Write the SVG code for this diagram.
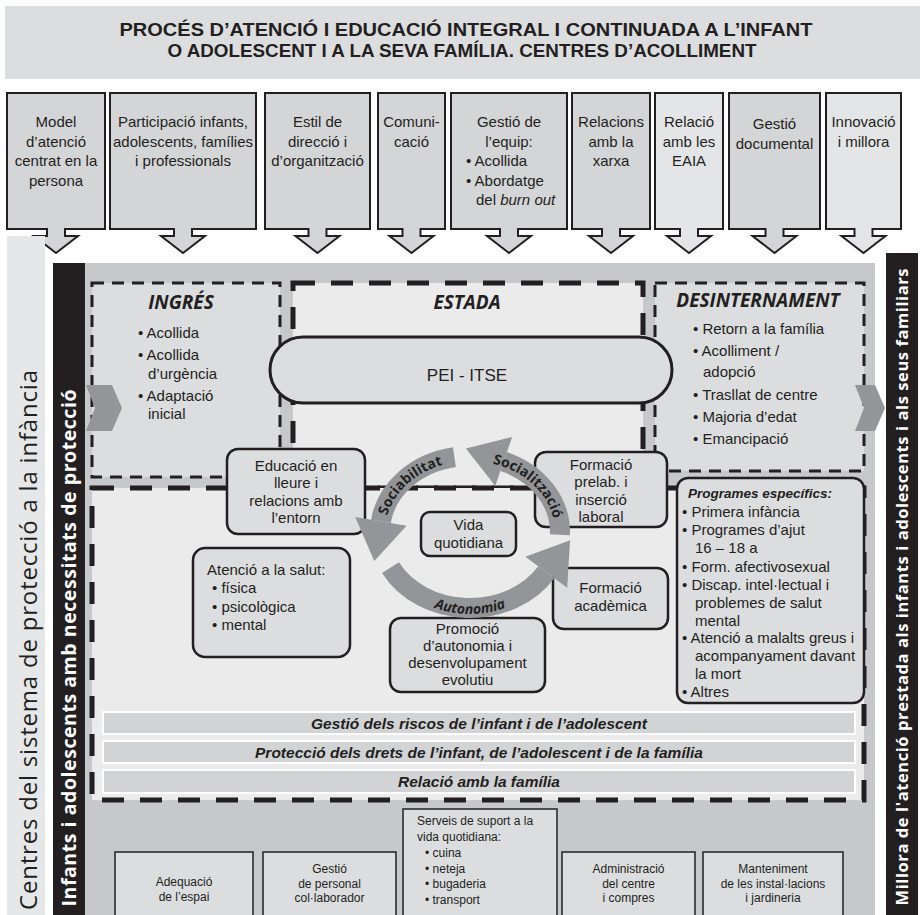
<svg xmlns="http://www.w3.org/2000/svg" width="920" height="915" viewBox="0 0 920 915">
<defs>
<style>
.t{font-family:"Liberation Sans",Arial,sans-serif;fill:#231f20}
.o{font-family:"Open Sans","Liberation Sans",sans-serif}
.n{font-family:"Liberation Sans",Arial,sans-serif;fill:#231f20;font-size:15px;text-anchor:middle}
.body{font-size:15px}
.sm{font-size:12px}
.c{text-anchor:middle}
.bi{font-weight:bold;font-style:italic}
.b{font-weight:bold}
.top{stroke:#231f20;stroke-width:2;stroke-linejoin:miter}
.rb{fill:#dcdddf;stroke:#231f20;stroke-width:2.5}
.sq{fill:#dcdddf;stroke:#231f20;stroke-width:1.5}
.thin{stroke:#231f20;stroke-width:3;stroke-dasharray:12 8;fill:#dcdddf}
.thick{stroke:#231f20;stroke-width:5;stroke-dasharray:22 16;fill:#ebebec}
.bar{fill:#d1d3d4;stroke:#ffffff;stroke-width:2}
.arc{fill:none;stroke:#939598;stroke-width:20}
.ah{fill:#939598}
</style>
</defs>
<rect x="0" y="0" width="920" height="915" fill="#ffffff"/>

<g id="title">
<rect x="5" y="6" width="915" height="73" fill="#dcdddf"/>
<text class="t b c" font-size="18" x="466" y="36" textLength="693" lengthAdjust="spacingAndGlyphs">PROCÉS D’ATENCIÓ I EDUCACIÓ INTEGRAL I CONTINUADA A L’INFANT</text>
<text class="t b c" font-size="18" x="462" y="57" textLength="589" lengthAdjust="spacingAndGlyphs">O ADOLESCENT I A LA SEVA FAMÍLIA. CENTRES D’ACOLLIMENT</text>
</g>

<g id="top-boxes">
<g id="tb1"><path class="top" fill="#d4d5d7" d="M7,93 H105 V229 H65 V236 H78 L56,253 L34,236 H47 V229 H7 Z"/>
<text class="n"><tspan x="56" y="127">Model</tspan><tspan x="56" y="146.5">d’atenció</tspan><tspan x="56" y="166">centrat en la</tspan><tspan x="56" y="185.5">persona</tspan></text></g>
<g id="tb2"><path class="top" fill="#d4d5d7" d="M110,93 H256 V229 H192 V236 H205 L183,253 L161,236 H174 V229 H110 Z"/>
<text class="n"><tspan x="183" y="127">Participació infants,</tspan><tspan x="183" y="146.5">adolescents, famílies</tspan><tspan x="183" y="166">i professionals</tspan></text></g>
<g id="tb3"><path class="top" fill="#d4d5d7" d="M265,93 H370 V229 H326.5 V236 H339.5 L317.5,253 L295.5,236 H308.5 V229 H265 Z"/>
<text class="n"><tspan x="317.5" y="127">Estil de</tspan><tspan x="317.5" y="146.5">direcció i</tspan><tspan x="317.5" y="166">d’organització</tspan></text></g>
<g id="tb4"><path class="top" fill="#d4d5d7" d="M378,93 H445 V229 H420.5 V236 H433.5 L411.5,253 L389.5,236 H402.5 V229 H378 Z"/>
<text class="n"><tspan x="411.5" y="127">Comuni-</tspan><tspan x="411.5" y="146.5">cació</tspan></text></g>
<g id="tb5"><path class="top" fill="#d4d5d7" d="M451,93 H567 V229 H518 V236 H531 L509,253 L487,236 H500 V229 H451 Z"/>
<text class="n"><tspan x="509" y="127">Gestió de</tspan><tspan x="509" y="146.5">l’equip:</tspan></text>
<text class="n" style="text-anchor:start"><tspan x="466" y="166">• Acollida</tspan><tspan x="466" y="185.5">• Abordatge</tspan><tspan x="476" y="205">del <tspan font-style="italic">burn out</tspan></tspan></text></g>
<g id="tb6"><path class="top" fill="#d4d5d7" d="M572,93 H650 V229 H620 V236 H633 L611,253 L589,236 H602 V229 H572 Z"/>
<text class="n"><tspan x="611" y="127">Relacions</tspan><tspan x="611" y="146.5">amb la</tspan><tspan x="611" y="166">xarxa</tspan></text></g>
<g id="tb7"><path class="top" fill="#e4e5e6" d="M655,93 H723 V229 H698 V236 H711 L689,253 L667,236 H680 V229 H655 Z"/>
<text class="n"><tspan x="689" y="127">Relació</tspan><tspan x="689" y="146.5">amb les</tspan><tspan x="689" y="166">EAIA</tspan></text></g>
<g id="tb8"><path class="top" fill="#d4d5d7" d="M729,93 H820 V229 H783.5 V236 H796.5 L774.5,253 L752.5,236 H765.5 V229 H729 Z"/>
<text class="n"><tspan x="774.5" y="129">Gestió</tspan><tspan x="774.5" y="148.5">documental</tspan></text></g>
<g id="tb9"><path class="top" fill="#e4e5e6" d="M826,93 H901 V229 H872.5 V236 H885.5 L863.5,253 L841.5,236 H854.5 V229 H826 Z"/>
<text class="n"><tspan x="863.5" y="127">Innovació</tspan><tspan x="863.5" y="146.5">i millora</tspan></text></g>
</g>

<g id="side-left">
<rect x="7" y="236" width="38" height="679" fill="#e6e7e8"/>
<text class="t o c" font-size="24" transform="translate(37,640) rotate(-90)" textLength="540">Centres del sistema de protecció a la infància</text>
</g>

<g id="panel">
<rect x="53" y="263" width="822" height="652" fill="#c7c8ca"/>
<rect x="53" y="263" width="32" height="652" fill="#231f20"/>
<text class="t o b c" font-size="19.5" style="fill:#ffffff" transform="translate(76,648) rotate(-90)" textLength="517">Infants i adolescents amb necessitats de protecció</text>
</g>

<g id="side-right">
<rect x="886" y="253" width="32" height="662" fill="#231f20"/>
<text class="t o b c" font-size="16.5" style="fill:#ffffff" transform="translate(908,587) rotate(-90)" textLength="637">Millora de l'atenció prestada als infants i adolescents i als seus familiars</text>
</g>

<g id="ingres">
<rect class="thin" x="92" y="283" width="188" height="194"/>
<text class="t o bi c" font-size="19" x="181" y="309">INGRÉS</text>
<text class="t body"><tspan x="138" y="338">• Acollida</tspan><tspan x="138" y="360">• Acollida</tspan><tspan x="148" y="379">d’urgència</tspan><tspan x="138" y="401">• Adaptació</tspan><tspan x="148" y="419">inicial</tspan></text>
</g>

<g id="desinternament">
<rect class="thin" x="655" y="283" width="209" height="188"/>
<text class="t o bi c" font-size="19" x="758" y="307">DESINTERNAMENT</text>
<text class="t body"><tspan x="693" y="334">• Retorn a la família</tspan><tspan x="693" y="356">• Acolliment /</tspan><tspan x="703" y="377">adopció</tspan><tspan x="693" y="400">• Trasllat de centre</tspan><tspan x="693" y="422">• Majoria d’edat</tspan><tspan x="693" y="444">• Emancipació</tspan></text>
</g>

<g id="estada">
<rect class="thick" x="293" y="283" width="350" height="205"/>
<rect class="thick" x="92" y="488" width="772" height="312"/>
<text class="t o bi c" font-size="19" x="467" y="309">ESTADA</text>
</g>

<g id="pei">
<rect x="270" y="337" width="402" height="66" rx="33" fill="#dcdddf" stroke="#231f20" stroke-width="3"/>
<text class="t c" font-size="17" x="467" y="381">PEI - ITSE</text>
</g>

<g id="educacio"><rect class="rb" x="227" y="449" width="138" height="85" rx="11"/>
<text class="t body c"><tspan x="296" y="471">Educació en</tspan><tspan x="296" y="488.3">lleure i</tspan><tspan x="296" y="505.6">relacions amb</tspan><tspan x="296" y="523">l’entorn</tspan></text></g>

<g id="formacio-prelab"><rect class="rb" x="535" y="452" width="132" height="75" rx="11"/>
<text class="t body c"><tspan x="601" y="470">Formació</tspan><tspan x="601" y="487.3">prelab. i</tspan><tspan x="601" y="504.6">inserció</tspan><tspan x="601" y="522">laboral</tspan></text></g>

<g id="vida"><rect class="rb" x="421" y="512" width="95" height="44" rx="9"/>
<text class="t body c"><tspan x="468.5" y="530">Vida</tspan><tspan x="468.5" y="548">quotidiana</tspan></text></g>

<g id="salut"><rect class="rb" x="193" y="548" width="157" height="109" rx="12"/>
<text class="t body"><tspan x="207" y="575">Atenció a la salut:</tspan><tspan x="212" y="593">• física</tspan><tspan x="212" y="612">• psicològica</tspan><tspan x="212" y="630">• mental</tspan></text></g>

<g id="academica"><rect class="rb" x="553" y="568" width="115" height="61" rx="11"/>
<text class="t body c"><tspan x="610.5" y="593">Formació</tspan><tspan x="610.5" y="611">acadèmica</tspan></text></g>

<g id="promocio"><rect class="rb" x="390" y="618" width="155" height="74" rx="11"/>
<text class="t body c"><tspan x="467.5" y="634">Promoció</tspan><tspan x="467.5" y="651">d’autonomia i</tspan><tspan x="467.5" y="668">desenvolupament</tspan><tspan x="467.5" y="685">evolutiu</tspan></text></g>

<g id="programes"><rect class="rb" x="677" y="478" width="187" height="225" rx="11"/>
<text class="t body"><tspan class="bi" font-size="13.5" x="688" y="498">Programes específics:</tspan><tspan x="682" y="517">• Primera infància</tspan><tspan x="682" y="535">• Programes d’ajut</tspan><tspan x="695" y="552.5">16 – 18 a</tspan><tspan x="682" y="572">• Form. afectivosexual</tspan><tspan x="682" y="590">• Discap. intel·lectual i</tspan><tspan x="695" y="608">problemes de salut</tspan><tspan x="695" y="625.5">mental</tspan><tspan x="682" y="643">• Atenció a malalts greus i</tspan><tspan x="695" y="661">acompanyament davant</tspan><tspan x="695" y="678.5">la mort</tspan><tspan x="682" y="697">• Altres</tspan></text></g>

<g id="bars">
<rect class="bar" x="103" y="712" width="752" height="22"/>
<text class="t bi c" font-size="15.5" x="479" y="728.5">Gestió dels riscos de l’infant i de l’adolescent</text>
<rect class="bar" x="103" y="741" width="752" height="22"/>
<text class="t bi c" font-size="15.5" x="479" y="757.5">Protecció dels drets de l’infant, de l’adolescent i de la família</text>
<rect class="bar" x="103" y="770" width="752" height="23"/>
<text class="t bi c" font-size="15.5" x="479" y="787">Relació amb la família</text>
</g>

<g id="bottom-boxes">
<g id="bb1"><rect class="sq" x="115" y="852" width="138" height="70"/>
<text class="t sm c"><tspan x="184" y="886">Adequació</tspan><tspan x="184" y="901">de l’espai</tspan></text></g>
<g id="bb2"><rect class="sq" x="263" y="852" width="133" height="70"/>
<text class="t sm c"><tspan x="329.5" y="873">Gestió</tspan><tspan x="329.5" y="887.5">de personal</tspan><tspan x="329.5" y="902">col·laborador</tspan></text></g>
<g id="bb3"><rect class="sq" x="403" y="809" width="154" height="113"/>
<text class="t sm"><tspan x="417" y="825">Serveis de suport a la</tspan><tspan x="417" y="841">vida quotidiana:</tspan><tspan x="425" y="857">• cuina</tspan><tspan x="425" y="872.5">• neteja</tspan><tspan x="425" y="888">• bugaderia</tspan><tspan x="425" y="904">• transport</tspan></text></g>
<g id="bb4"><rect class="sq" x="562" y="852" width="133" height="70"/>
<text class="t sm c"><tspan x="628.5" y="873">Administració</tspan><tspan x="628.5" y="887.5">del centre</tspan><tspan x="628.5" y="902">i compres</tspan></text></g>
<g id="bb5"><rect class="sq" x="703" y="852" width="140" height="70"/>
<text class="t sm c"><tspan x="773" y="873">Manteniment</tspan><tspan x="773" y="887.5">de les instal·lacions</tspan><tspan x="773" y="902">i jardineria</tspan></text></g>
</g>

<g id="connectors">
<polygon class="ah" points="86,385 112,385 122,408 112,431 86,431 95,408"/>
<polygon class="ah" points="855,385 875,385 885,408 875,431 855,431 864,408"/>
<path class="arc" d="M454.4,457.2 A90,76 0 0 0 380.9,521.4"/>
<polygon class="ah" points="355.2,517.1 406.6,525.7 374.3,560.9"/>
<path class="arc" d="M390.5,567.7 A90,76 0 0 0 546.3,572.3"/>
<polygon class="ah" points="525.4,556.8 567.2,587.8 570.1,540.2"/>
<path class="arc" d="M559.9,534.7 A90,76 0 0 0 503.7,461.5"/>
<polygon class="ah" points="512.1,436.9 495.3,486.1 465.9,448.6"/>
<path id="pSoc" fill="none" d="M386.3,519.7 A85,71 0 0 1 446.6,463.7"/>
<path id="pSocz" fill="none" d="M481.8,461.7 A85,71 0 0 1 554.9,529.5"/>
<path id="pAut" fill="none" d="M397.2,584.1 A93,79 0 0 0 542.8,584.1"/>
<text class="t o b" font-size="14"><textPath href="#pSoc" startOffset="50%" text-anchor="middle">Sociabilitat</textPath></text>
<text class="t o b" font-size="14"><textPath href="#pSocz" startOffset="50%" text-anchor="middle">Socialització</textPath></text>
<text class="t o bi" font-size="14"><textPath href="#pAut" startOffset="50%" text-anchor="middle">Autonomia</textPath></text>
</g>
</svg>
